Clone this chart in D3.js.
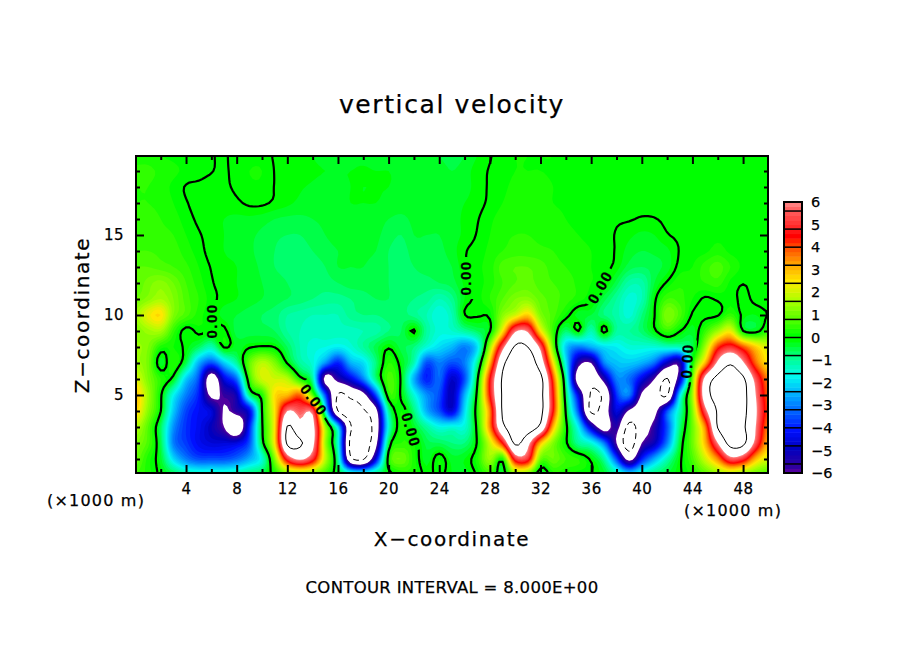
<!DOCTYPE html>
<html>
<head>
<meta charset="utf-8">
<script src="https://d3js.org/d3.v7.min.js"></script>
<style>
  html, body { margin: 0; background: #fff; }
  svg { display: block; }
  text { font-family: "DejaVu Sans", sans-serif; fill: #000; stroke: #000; stroke-width: 0.25px; }
</style>
</head>
<body>
<div id="chart"></div>
<script>
// w values, one row per km of height, one value per km of x (0..50)
var zRow0 = [.6,.3,-.1,-.5,-1,-1.2,-1.2,-1.2,-1,-.7, -.4,.2,1,1.2,1,.5,-.3,-.8,-1,-.6, -.2,.2,.3,-.1,.1,-.2,-.3,.05,.5,-.3, 1.2,1,-.5,.3,.2,.1,.02,-.3,-1,-1.8, -1.2,-.7,-.4,-.05,.3,.8,1.3,1.5,1.2,.9,.7];
var zRow1 = [1,.3,-.3,-2,-3,-3.5,-3.5,-3.5,-3.2,-2.5, -1.5,1.2,5,6.2,5,1.8,-1,-7.5,-8.2,-4.5, .3,1,.3,-.3,.2,-.3,-.2,.3,1.5,.3, 5,5,1,1,.6,.4,-.1,-1,-3.5,-6.5, -4,-2.5,-1.2,-.1,.7,2,3.5,5.5,5,3,2];
var zRow2 = [1.2,.7,-.5,-3,-3.7,-4.3,-4.6,-4.6,-4.5,-3.5, -.3,2.5,8.3,8.2,6.5,1.5,-1.5,-8.5,-9,-6.5, -.5,.4,.2,-.5,-.6,-.8,-.8,.05,2,4.5, 8.3,6.5,3,1.2,.1,-1,-1.5,-3,-6,-9, -6,-5,-3,-.4,1,3,6,8.6,8.4,5.5,3];
var zRow3 = [1.8,.8,-.6,-2.8,-3.8,-4.3,-5,-6,-7.5,-4, -.1,2.5,8.1,6.5,6.5,1.5,-2,-7.8,-9,-7, -1.5,.3,-.3,-1,-1.6,-1.5,-1.5,.2,3.5,7.5, 9,9,7.5,3,.2,-1.8,-4.8,-6.8,-5.5,-8.5, -7,-5.5,-3.5,-.8,1,3.5,8.1,9,8.3,6,3.5];
var zRow4 = [2.8,1.3,.02,-2.2,-3.6,-4.2,-4.6,-6.1,-5.5,-4.5, 0,2.5,6,5.5,5.5,-1.5,-8,-9,-8.2,-6.5, -1,.2,-.8,-2.5,-3.5,-4.6,-2,.4,3.5,8.2, 9,9,8.5,4.5,-.1,-3.5,-8.3,-7,-4.5,-6.2, -7,-6.5,-3.5,-1.2,1.2,5.5,8.2,9,8.5,6.2,4];
var zRow5 = [3,1.5,.1,-1.7,-3,-4,-6.3,-5.7,-5,-.8, .3,2.6,3,3.8,.8,-3.5,-8.2,-7.5,-6.5,-3.5, .4,-.1,-1.5,-2.8,-3.5,-5,-2.5,.2,4.5,8.2, 9,9,8.5,4.5,-.5,-4.5,-8.2,-7.6,-3.8,-3, -6.2,-7,-8.2,-2,1.5,7,8.6,9,8.6,6,3.8];
var zRow6 = [2.2,1.2,.4,-.2,-2.2,-3.5,-7,-4.5,-3.2,.5, 2,2,1.8,.3,-1,-6.5,-5.5,-4.5,-3,-.8, .7,-.1,-2.5,-4,-3.2,-4.8,-3.5,-.2,4.5,8.2, 9,9,8.5,4,-1,-7,-7.5,-5.5,-3,-3.2, -4.5,-6,-8.1,-5,1,6.5,8.5,9,8.3,5.5,3.5];
var zRow7 = [1.5,1.1,-.3,.4,-.5,-2.5,-3.5,-2.2,-1,.9, 1.8,1.2,-.05,-1,-1.5,-2.8,-4,-2.5,-2,-.8, .4,-.2,-1.2,-3.5,-3,-3.5,-3,-1,3,7.5, 9,9,7,2.5,-1.8,-5.5,-6,-3,-2.3,-2.2, -2.5,-3.2,-5,-5.5,.1,3,6.3,7.8,6.2,3.8,2.5];
var zRow8 = [1.5,1.2,.3,.2,-.1,-.6,-1.2,.05,-.3,-.05, .05,-.02,-.6,-1.2,-1.5,-1.6,-1.8,-1.5,-1,-.5, -.05,-.5,-.8,-1.5,-2,-2.4,-3,-2,1.5,5.5, 8.2,8,5.6,1,-2.2,-3,-2.5,-2,-1.8,-1.5, -1.5,-1.5,-1.3,-1.2,-.5,1.5,4.2,5,4,2.8,2];
var zRow9 = [1.2,1.5,1.6,.5,-.15,.1,.02,.1,-.5,-.5, -.5,-.6,-1,-1.2,-1.3,-1.3,-1.3,-1.3,-1.2,-1.1, -.8,-.6,.05,-1,-1.5,-1.4,-1,-.6,-.05,2.5, 5.8,5.8,2.5,.5,-.7,.01,-1.2,.15,-1,-1, -.7,-.1,.5,.02,-.3,.5,1.5,2.3,.02,-.2,.5];
var zRow10 = [1.5,2.3,2.6,1.2,.7,.3,.02,-.3,-.4,-.5, -.6,-.7,-1,-1.1,-1.2,-1.2,-1.2,-.9,-.8,-.8, -.7,-.7,-.9,-1.2,-1.6,-1.2,-.02,.05,.1,1.3, 2,2.8,1.2,.7,.15,-.3,-.4,-.8,-1.1,-1.5, -.8,-.02,1.2,.7,-.05,-.1,-.05,.5,-.1,-.2,.02];
var zRow11 = [1,1.3,1.6,1.2,.7,.4,.1,-.1,-.2,-.3, -.4,-.5,-.6,-.7,-.8,-.9,-.9,-.8,-.7,-.6, -.6,-.7,-.8,-.9,-1.2,-.9,-.2,.1,.4,.8, 1.2,1.3,.9,.7,.5,.3,.03,-.5,-1,-1.5, -1.2,-.1,.6,.5,.2,-.05,.05,.15,-.1,.1,.2];
var zRow12 = [.8,1.1,1.3,1,.6,.3,.03,-.1,-.2,-.3, -.4,-.5,-.6,-.7,-.7,-.7,-.6,-.5,-.5,-.5, -.6,-.7,-.7,-.7,-.6,-.5,-.15,.1,.3,.6, .8,.9,.7,.6,.5,.35,.2,.05,-.5,-1.1, -1.1,-.4,.05,.35,.3,.4,.5,.15,.01,.1,.1];
var zRow13 = [.8,.8,.7,.6,.45,.2,-.02,-.15,-.2,-.3, -.45,-.6,-.7,-.8,-.7,-.6,-.4,-.4,-.4,-.5, -.6,-.7,-.6,-.5,-.5,-.4,-.05,.15,.3,.7, .8,.8,.7,.5,.4,.3,.2,.1,-.1,-.5, -.6,-.5,-.3,.1,.2,.5,.7,.4,.15,.1,.1];
var zRow14 = [.6,.6,.55,.5,.3,.1,-.1,-.2,-.25,-.35, -.5,-.6,-.7,-.7,-.6,-.5,-.4,-.35,-.35,-.4, -.6,-.7,-.5,-.45,-.45,-.3,-.03,.1,.25,.4, .5,.5,.45,.4,.3,.25,.2,.1,-.03,-.3, -.4,-.35,-.25,.02,.1,.15,.3,.15,.1,.1,.1];
var zRow15 = [.5,.5,.45,.4,.2,.03,-.1,-.2,-.3,-.35, -.45,-.55,-.6,-.6,-.5,-.4,-.3,-.3,-.3,-.35, -.5,-.6,-.4,-.4,-.4,-.3,-.15,.02,.2,.35, .4,.4,.35,.3,.25,.2,.15,.08,-.02,-.15, -.25,-.2,-.02,.05,.1,.12,.15,.12,.1,.1,.1];
var zRow16 = [.45,.45,.4,.3,.1,-.05,-.15,-.2,-.25,-.25, -.3,-.4,-.45,-.45,-.4,-.35,-.25,-.25,-.25,-.3, -.4,-.45,-.35,-.3,-.35,-.3,-.15,-.02,.15,.3, .35,.35,.3,.25,.2,.15,.12,.08,.03,.02, -.02,-.01,.05,.08,.1,.12,.12,.1,.1,.1,.1];
var zRow17 = [.4,.4,.35,.2,.02,-.08,-.1,-.12,-.05,.05, .05,-.05,-.15,-.25,-.3,-.3,-.25,-.2,-.2,-.2, -.25,-.3,-.3,-.3,-.3,-.3,-.2,-.08,.05,.2, .3,.3,.25,.2,.18,.15,.12,.1,.08,.06, .05,.05,.06,.08,.1,.1,.1,.1,.1,.1,.1];
var zRow18 = [.4,.4,.3,.15,-.02,-.05,-.08,-.05,.05,.15, .15,-.01,-.1,-.18,-.22,-.25,-.25,-.2,-.2,-.2, -.2,-.25,-.25,-.25,-.3,-.35,-.3,-.1,.03,.15, .25,.25,.25,.2,.18,.15,.12,.1,.08,.06, .05,.05,.06,.08,.08,.08,.1,.1,.1,.1,.1];
var zRow19 = [.45,.45,.35,.25,.15,.08,.01,-.03,.08,.2, .2,-.01,-.1,-.15,-.18,-.2,-.2,-.2,-.18,-.2, -.2,-.25,-.25,-.25,-.3,-.4,-.3,-.1,.02,.12, .2,.2,.2,.18,.15,.12,.1,.08,.06,.05, .05,.05,.05,.08,.08,.08,.1,.1,.1,.1,.12];
var zRow20 = [.3,.3,.2,.15,.1,.1,.02,-.03,.1,.12, .12,-.03,-.1,-.15,-.2,-.25,-.25,-.25,-.25,-.3, -.3,-.3,-.3,-.3,-.4,-.5,-.4,-.2,-.02,.1, .2,.2,.2,.2,.15,.1,.1,.1,.1,.1, .1,.1,.1,.1,.1,.1,.1,.1,.1,.12,.15];

var rows = [zRow0, zRow1, zRow2, zRow3, zRow4, zRow5, zRow6, zRow7, zRow8, zRow9, zRow10,
  zRow11, zRow12, zRow13, zRow14, zRow15, zRow16, zRow17, zRow18, zRow19, zRow20];

var xTicks = [4, 8, 12, 16, 20, 24, 28, 32, 36, 40, 44, 48];
var xMinor = [2, 6, 10, 14, 18, 22, 26, 30, 34, 38, 42, 46];
var zTicks = [5, 10, 15];
var zMinor = [1, 2, 3, 4, 6, 7, 8, 9, 11, 12, 13, 14, 16, 17, 18, 19];
var colorValues = [-6, -5.6, -4.8, -4, -3.2, -2.4, -1.6, -0.8, 0, 0.8, 1.6, 2.4, 3.2, 4, 4.4, 4.8, 5.6, 6];
var colorStops = ['#7000a0', '#3000a0', '#0000c0', '#0010ff', '#0060ff', '#00b0ff', '#00f8f0', '#00ff90', '#00ff00', '#60ff00', '#b0ff00', '#ffe800', '#ffa000', '#ff4000', '#ff0000', '#ff2828', '#ff6464', '#ff9a9a'];
var legendTicks = [-6, -5, -4, -3, -2, -1, 0, 1, 2, 3, 4, 5, 6];
var legendEdges = [-5.6, -4.8, -4, -3.2, -2.4, -1.6, -0.8, 0, 0.8, 1.6, 2.4, 3.2, 4, 4.8, 5.6];
var zeroLabels = [
  { x: 212, y: 321, angle: -90 },
  { x: 466, y: 278, angle: -90 },
  { x: 600, y: 287, angle: -60 },
  { x: 687, y: 361, angle: -87 },
  { x: 314, y: 400, angle: 54 },
  { x: 411, y: 430, angle: 74 }
];

var frame = { left: 136, right: 768, top: 156, bottom: 473 };

var svg = d3.select('#chart').append('svg')
  .attr('width', 904)
  .attr('height', 654);

var x = d3.scaleLinear().domain([0, 50]).range([135.4, 768.4]);
var z = d3.scaleLinear().domain([0, 20]).range([475, 155]);
var color = d3.scaleLinear().domain(colorValues).range(colorStops);

// catmull-rom resample of the rows, only so the bands come out round
var k = 4;
var nx = 50 * k + 1;
var nz = 20 * k + 1;

var cubic = function(a, b, c, d, t) {
  return b + 0.5 * t * (c - a + t * (2 * a - 5 * b + 4 * c - d + t * (3 * (b - c) + d - a)));
};

var field = new Array(nx * nz);
var rowsAt = function(j, i) {
  j = Math.max(0, Math.min(20, j));
  i = Math.max(0, Math.min(50, i));
  return rows[j][i];
};
for (var jj = 0; jj < nz; jj++) {
  for (var ii = 0; ii < nx; ii++) {
    var i0 = Math.floor(ii / k), j0 = Math.floor(jj / k);
    var tx = ii / k - i0, tz = jj / k - j0;
    var col = [];
    for (var m = -1; m < 3; m++) {
      col.push(cubic(rowsAt(j0 + m, i0 - 1), rowsAt(j0 + m, i0), rowsAt(j0 + m, i0 + 1), rowsAt(j0 + m, i0 + 2), tx));
    }
    field[jj * nx + ii] = cubic(col[0], col[1], col[2], col[3], tz);
  }
}

var path = d3.geoPath(d3.geoTransform({
  point: function(px, py) {
    this.stream.point(x((px - 0.5) / k), z((py - 0.5) / k));
  }
}));

var contours = d3.contours().size([nx, nz]).smooth(true);

var defs = svg.append('defs');
defs.append('clipPath').attr('id', 'plot-clip').append('rect')
  .attr('x', frame.left)
  .attr('y', frame.top)
  .attr('width', frame.right - frame.left)
  .attr('height', frame.bottom - frame.top);

var lineMask = defs.append('mask')
  .attr('id', 'label-gaps')
  .attr('maskUnits', 'userSpaceOnUse')
  .attr('x', 0).attr('y', 0).attr('width', 904).attr('height', 654);
lineMask.append('rect').attr('width', 904).attr('height', 654).attr('fill', '#fff');
lineMask.selectAll('rect.gap')
  .data(zeroLabels)
  .enter()
  .append('rect')
  .attr('class', 'gap')
  .attr('x', -21).attr('y', -9).attr('width', 42).attr('height', 18)
  .attr('fill', '#000')
  .attr('transform', function(d) { return 'translate(' + d.x + ',' + d.y + ') rotate(' + d.angle + ')'; });

var plot = svg.append('g').attr('clip-path', 'url(#plot-clip)');

// filled bands, white stays under -6 and over 6
var step = 0.2;
var thresholds = d3.range(-6, 6 - step / 2, step);
var bandColor = function(v) {
  return color(v > -step / 2 ? v : v + step);
};
plot.append('rect')
  .attr('x', frame.left).attr('y', frame.top)
  .attr('width', frame.right - frame.left).attr('height', frame.bottom - frame.top)
  .attr('fill', '#fff');
plot.selectAll('path.band')
  .data(contours.thresholds(thresholds)(field))
  .enter()
  .append('path')
  .attr('class', 'band')
  .attr('d', path)
  .attr('fill', function(d) { return bandColor(d.value); });
plot.append('path')
  .datum(contours.contour(field, 6))
  .attr('d', path)
  .attr('fill', '#fff');

// contour lines: 0 heavy, +8 thin, -8 thin dashed
var lineData = [
  { value: 0, width: 2.2, dash: null },
  { value: 8, width: 1, dash: null },
  { value: -8, width: 1, dash: '6,4' }
];
plot.selectAll('path.line')
  .data(lineData)
  .enter()
  .append('path')
  .attr('class', 'line')
  .attr('d', function(d) { return path(contours.contour(field, d.value)); })
  .attr('fill', 'none')
  .attr('stroke', '#000')
  .attr('stroke-width', function(d) { return d.width; })
  .attr('stroke-dasharray', function(d) { return d.dash; })
  .attr('mask', function(d) { return d.value === 0 ? 'url(#label-gaps)' : null; });

svg.selectAll('text.zero')
  .data(zeroLabels)
  .enter()
  .append('text')
  .attr('class', 'zero')
  .attr('transform', function(d) { return 'translate(' + d.x + ',' + d.y + ') rotate(' + d.angle + ')'; })
  .attr('text-anchor', 'middle')
  .attr('dy', '0.36em')
  .style('font-family', '"Liberation Sans", sans-serif')
  .style('font-size', '15px')
  .style('font-weight', 'bold')
  .style('letter-spacing', '1.5px')
  .text('0.00');

// ticks on all four sides, pointing inward
var addAxis = function(axis, tx, ty) {
  var g = svg.append('g')
    .attr('transform', 'translate(' + tx + ',' + ty + ')')
    .call(axis);
  g.select('.domain').remove();
  g.selectAll('line').attr('stroke', '#000').attr('stroke-width', 2);
  return g;
};

var fmt = function(d) { return d; };
var xLabels = addAxis(d3.axisBottom(x).tickValues(xTicks).tickSize(-8).tickFormat(fmt), 0, frame.bottom);
xLabels.selectAll('text').attr('dy', 0).attr('y', 21).style('font-size', '15px').style('letter-spacing', '0.5px');
addAxis(d3.axisBottom(x).tickValues(xMinor).tickSize(-4).tickFormat(''), 0, frame.bottom);
addAxis(d3.axisTop(x).tickValues(xTicks).tickSize(-8).tickFormat(''), 0, frame.top);
addAxis(d3.axisTop(x).tickValues(xMinor).tickSize(-4).tickFormat(''), 0, frame.top);
var zLabels = addAxis(d3.axisLeft(z).tickValues(zTicks).tickSize(-8).tickFormat(fmt), frame.left, 0);
zLabels.selectAll('text').attr('x', -12).style('font-size', '15px').style('letter-spacing', '0.5px');
addAxis(d3.axisLeft(z).tickValues(zMinor).tickSize(-4).tickFormat(''), frame.left, 0);
addAxis(d3.axisRight(z).tickValues(zTicks).tickSize(-8).tickFormat(''), frame.right, 0);
addAxis(d3.axisRight(z).tickValues(zMinor).tickSize(-4).tickFormat(''), frame.right, 0);

svg.append('rect')
  .attr('x', frame.left).attr('y', frame.top)
  .attr('width', frame.right - frame.left).attr('height', frame.bottom - frame.top)
  .attr('fill', 'none')
  .attr('stroke', '#000')
  .attr('stroke-width', 2);

// colour bar
var bar = { left: 784, right: 802, top: 202, bottom: 473 };
var legendY = d3.scaleLinear().domain([-6, 6]).range([bar.bottom, bar.top]);
svg.selectAll('rect.swatch')
  .data(thresholds)
  .enter()
  .append('rect')
  .attr('class', 'swatch')
  .attr('x', bar.left)
  .attr('width', bar.right - bar.left)
  .attr('y', function(d) { return legendY(d + step); })
  .attr('height', function(d) { return legendY(d) - legendY(d + step) + 0.5; })
  .attr('fill', function(d) { return bandColor(d); });
svg.selectAll('line.edge')
  .data(legendEdges)
  .enter()
  .append('line')
  .attr('class', 'edge')
  .attr('x1', bar.left).attr('x2', bar.right)
  .attr('y1', function(d) { return legendY(d); })
  .attr('y2', function(d) { return legendY(d); })
  .attr('stroke', '#000')
  .attr('stroke-width', 1.5);
svg.append('rect')
  .attr('x', bar.left).attr('y', bar.top)
  .attr('width', bar.right - bar.left).attr('height', bar.bottom - bar.top)
  .attr('fill', 'none')
  .attr('stroke', '#000')
  .attr('stroke-width', 2);
var legendAxis = svg.append('g')
  .attr('transform', 'translate(' + bar.right + ',0)')
  .call(d3.axisRight(legendY).tickValues(legendTicks).tickSize(0));
legendAxis.select('.domain').remove();
legendAxis.selectAll('text').attr('x', 9).style('font-size', '14.5px');

// titles
var addText = function(str, px, py, size, anchor, rotate) {
  return svg.append('text')
    .attr('x', px)
    .attr('y', py)
    .attr('text-anchor', anchor || 'middle')
    .attr('transform', rotate ? 'rotate(' + rotate + ',' + px + ',' + py + ')' : null)
    .style('font-size', size + 'px')
    .text(str);
};

addText('vertical velocity', 452, 113, 25).style('letter-spacing', '1.6px');
addText('X\u2212coordinate', 452, 546, 20).style('letter-spacing', '1.6px');
addText('Z\u2212coordinate', 89, 315, 20, 'middle', -90).style('letter-spacing', '1.6px');
addText('(\u00d71000 m)', 47, 506, 16, 'start').style('letter-spacing', '1.2px');
addText('(\u00d71000 m)', 684, 516, 16, 'start').style('letter-spacing', '1.2px');
addText('CONTOUR INTERVAL = 8.000E+00', 452, 593, 16.5).style('letter-spacing', '0.3px');
</script>
</body>
</html>
